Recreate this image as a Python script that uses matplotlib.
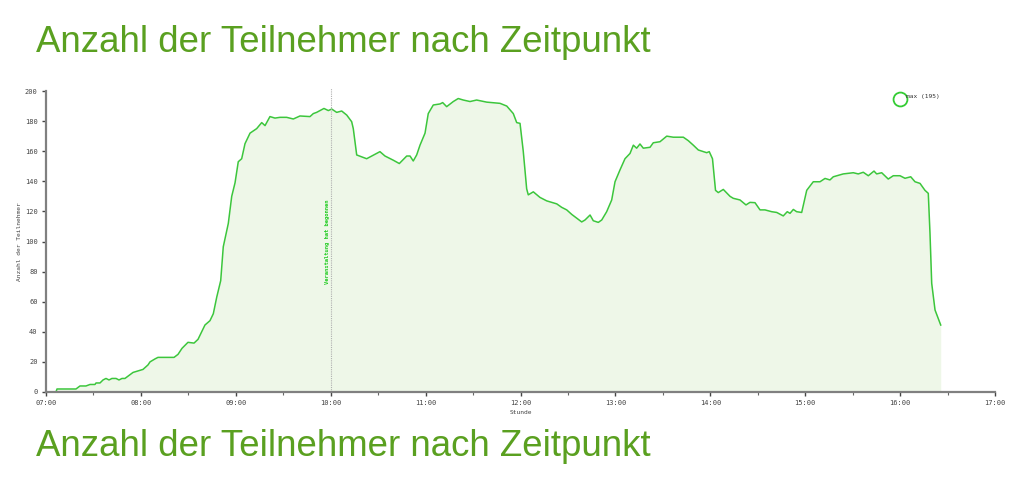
import matplotlib
matplotlib.use('Agg')
import matplotlib.pyplot as plt
from matplotlib.ticker import MultipleLocator

# hours after 07:00 and number of participants
stunde = [0.105, 0.116, 0.316, 0.358, 0.421, 0.464, 0.516, 0.527, 0.569, 0.601,
          0.632, 0.664, 0.695, 0.738, 0.769, 0.801, 0.832, 0.917, 1.022, 1.075,
          1.096, 1.149, 1.180, 1.349, 1.391, 1.433, 1.496, 1.560, 1.602, 1.675,
          1.728, 1.763, 1.799, 1.841, 1.868, 1.921, 1.957, 1.992, 2.026, 2.062,
          2.097, 2.150, 2.220, 2.273, 2.308, 2.360, 2.413, 2.466, 2.536, 2.606,
          2.676, 2.782, 2.817, 2.852, 2.929, 2.975, 3.011, 3.063, 3.116, 3.169,
          3.221, 3.238, 3.274, 3.379, 3.519, 3.572, 3.660, 3.723, 3.801, 3.836,
          3.870, 3.906, 3.941, 3.994, 4.028, 4.081, 4.152, 4.180, 4.222, 4.292,
          4.344, 4.397, 4.468, 4.538, 4.644, 4.784, 4.855, 4.924, 4.960, 4.995,
          5.029, 5.065, 5.082, 5.135, 5.205, 5.276, 5.382, 5.434, 5.487, 5.540,
          5.609, 5.645, 5.680, 5.733, 5.767, 5.820, 5.856, 5.908, 5.961, 5.996,
          6.048, 6.101, 6.154, 6.189, 6.224, 6.259, 6.294, 6.365, 6.399, 6.470,
          6.541, 6.610, 6.716, 6.768, 6.821, 6.874, 6.962, 6.989, 7.023, 7.055,
          7.084, 7.137, 7.208, 7.242, 7.313, 7.376, 7.418, 7.471, 7.524, 7.576,
          7.647, 7.700, 7.769, 7.811, 7.840, 7.875, 7.910, 7.963, 8.016, 8.085,
          8.156, 8.209, 8.261, 8.296, 8.401, 8.507, 8.559, 8.612, 8.665, 8.725,
          8.753, 8.806, 8.875, 8.928, 8.999, 9.052, 9.112, 9.157, 9.210, 9.262,
          9.297, 9.315, 9.333, 9.368, 9.428]
teilnehmer = [0, 2, 2, 4, 4, 5, 5, 6, 6, 8,
              9, 8, 9, 9, 8, 9, 9, 13, 15, 18,
              20, 22, 23, 23, 25, 29, 33, 32.5, 35, 44.5,
              47.4, 52, 63, 74, 96.5, 112, 130, 139, 153, 155,
              165, 172, 175, 179, 177, 183, 182, 182.5, 182.5, 181.4,
              183.4, 183, 185, 185.8, 188.4, 187, 188, 185.8, 186.7, 184,
              179.6, 175, 157.5, 155, 159.7, 156.8, 154, 151.8, 156.8, 156.8,
              153.5, 157.5, 164, 172, 185, 190.7, 191.4, 192.3, 189.6, 193,
              195, 194, 193, 194, 192.6, 191.8, 190, 185, 179, 178.5,
              160, 135, 131, 133, 129.3, 127, 125, 122.7, 121, 118,
              114.7, 113, 114.3, 117.6, 113.8, 112.7, 114.3, 119.8, 127.6, 139.7,
              147.5, 155, 158.5, 164, 162, 164.8, 162, 162.6, 165.6, 166.3,
              170, 169.3, 169.3, 167, 164, 160.8, 159, 159.7, 155, 134,
              132.5, 134.6, 130, 128.7, 127.6, 124.3, 126, 125.8, 121, 121,
              119.8, 119.3, 117, 119.8, 118.7, 121.3, 119.8, 119.3, 134, 139.7,
              139.7, 141.9, 140.9, 143, 144.9, 145.7, 144.9, 146, 143.7, 146.8,
              144.9, 145.7, 141.5, 143.7, 143.7, 142, 143, 139.7, 138.6, 134,
              132, 105.4, 72.2, 54.5, 44.5]

xticks = list(range(0, 11))
xlabels = ['%02d:00' % (7 + h) for h in xticks]
start_h = 3.0       # 10:00, Veranstaltung hat begonnen
max_pos = (9.0, 195)

title = 'Anzahl der Teilnehmer nach Zeitpunkt'
green = '#5aa020'
line_green = '#3cc63c'
grey = '#808080'

fig = plt.figure(figsize=(10.24, 4.82), dpi=100)
ax = fig.add_axes([46 / 1024, 1 - 392 / 482, 949 / 1024, 301 / 482])

ax.fill_between(stunde, teilnehmer, 0, color='#eef7e8', lw=0)
ax.plot(stunde, teilnehmer, color=line_green, lw=1.1)

ax.axvline(start_h, color='#b0b0b0', lw=0.8, ls=(0, (1, 1)), ymax=1.01, clip_on=False)
ax.text(start_h - 0.03, 100, 'Veranstaltung hat begonnen', rotation=90, ha='center', va='center',
        color='#22cc22', fontsize=4, family='DejaVu Sans Mono', fontweight='bold')

ax.plot([max_pos[0]], [max_pos[1]], 'o', ms=10, mfc='none', mec='#33cc33', mew=1.3)
ax.text(max_pos[0] + 0.06, max_pos[1] + 1.5, 'max (195)', fontsize=4.5,
        family='DejaVu Sans Mono', color='#333333', va='center')

ax.set_xlim(0, 10)
ax.set_ylim(0, 200)
ax.set_xticks(xticks)
ax.set_xticklabels(xlabels)
ax.xaxis.set_minor_locator(MultipleLocator(0.5))
ax.yaxis.set_major_locator(MultipleLocator(20))

for s in ['top', 'right']:
    ax.spines[s].set_visible(False)
for s in ['left', 'bottom']:
    ax.spines[s].set_color(grey)
    ax.spines[s].set_linewidth(1.6)

ax.tick_params(axis='both', which='major', labelsize=5, colors='#444444', length=3, width=1, pad=3)
ax.tick_params(axis='x', which='minor', length=2, width=0.8, colors='#666666')
for lab in ax.get_xticklabels() + ax.get_yticklabels():
    lab.set_family('DejaVu Sans Mono')

ax.set_xlabel('Stunde', fontsize=4.5, family='DejaVu Sans Mono', color='#444444', labelpad=3)
ax.set_ylabel('Anzahl der Teilnehmer', fontsize=4.5, family='DejaVu Sans Mono', color='#444444',
              labelpad=2)

fig.text(36 / 1024, 1 - 42 / 482, title, fontsize=26.4, color=green, family='Liberation Sans',
         va='center', ha='left')
fig.text(36 / 1024, 1 - 446 / 482, title, fontsize=26.4, color=green, family='Liberation Sans',
         va='center', ha='left')

fig.savefig('out.png', dpi=100)
